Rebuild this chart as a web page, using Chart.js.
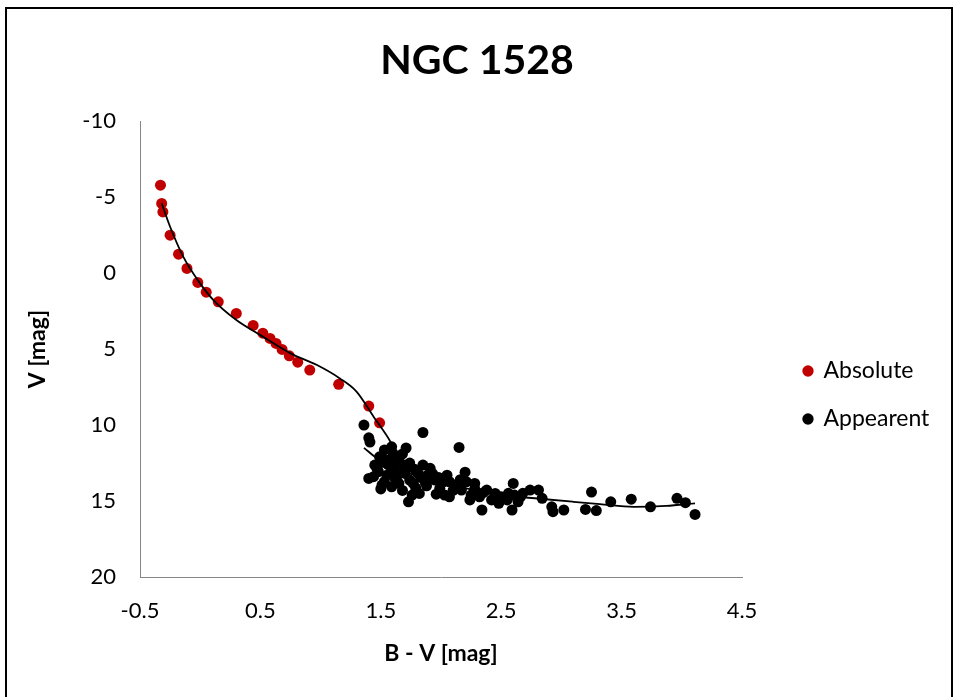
<!DOCTYPE html>
<html>
<head>
<meta charset="utf-8">
<script src="https://cdn.jsdelivr.net/npm/chart.js@4.4.1/dist/chart.umd.min.js"></script>
<style>
  body { margin: 0; background: #fff; }
  #wrap { position: relative; width: 954px; height: 697px; overflow: hidden; }
  #frame { position: absolute; left: 5px; top: 7px; width: 944px; height: 720px; border: 2px solid #000; pointer-events: none; }
</style>
</head>
<body>
<div id="wrap">
  <canvas id="cmd" width="954" height="697"></canvas>
  <div id="frame"></div>
</div>
<script>
// ---- data ----
const absX = [-0.33, -0.32, -0.31, -0.25, -0.18, -0.11, -0.02, 0.05, 0.15, 0.30, 0.44, 0.52, 0.58, 0.63, 0.68, 0.74, 0.81, 0.91, 1.15, 1.40, 1.49, 1.63];
const absY = [-5.79, -4.59, -4.03, -2.5, -1.25, -0.31, 0.61, 1.25, 1.89, 2.65, 3.44, 3.95, 4.30, 4.63, 5.02, 5.44, 5.86, 6.38, 7.32, 8.75, 9.85, 12.15];

const appX = [1.36, 1.40, 1.41, 1.85, 2.15, 1.59, 1.71, 1.53, 1.49, 1.45, 1.56, 1.67, 1.74, 1.48, 1.59, 1.70, 1.40, 1.44, 1.53, 1.65,
  1.74, 1.51, 1.59, 1.73, 1.76, 1.85, 1.81, 1.89, 1.77, 1.95, 2.02, 2.07, 2.12, 2.20, 2.21, 2.03, 2.07, 2.17, 1.99, 2.28,
  2.38, 2.25, 2.32, 2.24, 2.42, 2.48, 2.50, 2.55, 2.60, 2.56, 2.61, 2.66, 2.64, 2.68, 2.74, 2.34, 2.59, 2.81, 2.84, 2.92,
  2.93, 3.02, 3.20, 3.25, 3.29, 3.41, 3.58, 3.74, 3.96, 4.03, 4.11, 1.63, 1.53, 1.64, 1.79, 1.87, 1.91, 1.68, 2.16,
  1.47, 1.52, 1.57, 1.62, 1.70, 1.78, 1.83, 1.93, 1.98, 2.05, 2.10, 1.88, 1.62, 1.55, 1.50, 1.82, 1.96, 2.28, 2.35, 2.45,
  1.68, 1.60];
const appY = [10.00, 10.84, 11.12, 10.49, 11.47, 11.43, 11.51, 11.64, 12.09, 12.63, 12.60, 12.55, 12.50, 13.07, 13.00, 13.18, 13.51, 13.40, 13.73, 13.84,
  13.62, 13.95, 14.06, 15.05, 14.61, 12.63, 13.18, 13.29, 13.84, 13.62, 13.73, 13.73, 13.95, 13.10, 13.73, 14.61, 14.72, 14.28, 14.16, 13.84,
  14.28, 14.61, 14.72, 14.93, 14.93, 15.15, 14.72, 14.93, 13.84, 14.49, 14.61, 14.72, 15.05, 14.49, 14.28, 15.59, 15.59, 14.28, 14.82, 15.38,
  15.70, 15.59, 15.55, 14.41, 15.63, 15.05, 14.88, 15.38, 14.82, 15.11, 15.88, 12.24, 12.30, 13.30, 14.14, 13.80, 12.85, 14.30, 13.60,
  12.90, 12.45, 12.30, 12.70, 12.90, 12.90, 13.45, 13.20, 13.45, 13.30, 14.30, 14.00, 13.55, 13.30, 14.20, 14.50, 14.55, 14.20, 14.45, 14.50,
  11.90, 11.85];

// trendlines
const absTrendX = [-0.32, -0.25, -0.14, -0.02, 0.11, 0.30, 0.50, 0.75, 0.97, 1.16, 1.30, 1.44, 1.58, 1.63];
const absTrendY = [-4.6, -3.05, -1.07, 0.46, 1.78, 3.09, 4.08, 5.28, 6.05, 6.93, 7.81, 9.45, 11.1, 11.9];
const appTrendX = [1.36, 1.47, 1.6, 1.8, 2.0, 2.2, 2.5, 2.82, 3.1, 3.32, 3.6, 3.87, 4.11];
const appTrendY = [11.5, 12.2, 12.75, 13.35, 13.8, 14.15, 14.6, 14.85, 15.05, 15.2, 15.38, 15.32, 15.15];

const seriesNames = ['Absolute', 'Appearent'];
const xTicks = [-0.5, 0.5, 1.5, 2.5, 3.5, 4.5];
const yTicks = [-10, -5, 0, 5, 10, 15, 20];

const pts = (xs, ys) => xs.map((x, i) => ({ x: x, y: ys[i] }));
const FONT = 'Lato, sans-serif';

// keeps the legend at the right of the plot like the Excel one
const legendPlace = {
  id: 'legendPlace',
  beforeLayout(chart) {
    const lg = chart.legend;
    if (lg && !lg._fixed) {
      const fit = lg.fit.bind(lg);
      lg.fit = function () { fit(); this.width = 212; };
      lg._fixed = true;
    }
  },
  afterLayout(chart) {
    const lg = chart.legend;
    const w = lg.right - lg.left, h = lg.bottom - lg.top;
    lg.left = 779; lg.right = 779 + w;
    lg.top = 334.5; lg.bottom = 334.5 + h;
  }
};

new Chart(document.getElementById('cmd'), {
  type: 'scatter',
  data: {
    datasets: [
      {
        label: seriesNames[0],
        data: pts(absX, absY),
        backgroundColor: '#C00000',
        borderColor: '#C00000',
        borderWidth: 0,
        pointRadius: 5.5,
        order: 3
      },
      {
        label: seriesNames[1],
        data: pts(appX, appY),
        backgroundColor: '#000000',
        borderColor: '#000000',
        borderWidth: 0,
        pointRadius: 5.5,
        order: 2
      },
      {
        label: 'trend1',
        data: pts(absTrendX, absTrendY),
        showLine: true,
        pointRadius: 0,
        borderColor: '#000',
        borderWidth: 1.8,
        cubicInterpolationMode: 'monotone',
        order: 1
      },
      {
        label: 'trend2',
        data: pts(appTrendX, appTrendY),
        showLine: true,
        pointRadius: 0,
        borderColor: '#000',
        borderWidth: 1.8,
        cubicInterpolationMode: 'monotone',
        order: 1
      }
    ]
  },
  options: {
    responsive: false,
    animation: false,
    events: [],
    layout: { padding: 0 },
    plugins: {
      title: {
        display: true,
        text: 'NGC 1528',
        color: '#000',
        font: { family: FONT, size: 41, weight: 'bold' },
        padding: { top: 36, bottom: 36 }
      },
      legend: {
        position: 'right',
        align: 'start',
        labels: {
          filter: (item) => item.datasetIndex < 2,
          sort: (a, b) => a.datasetIndex - b.datasetIndex,
          usePointStyle: true,
          pointStyle: 'circle',
          boxWidth: 8,
          boxHeight: 8,
          padding: 25,
          color: '#000',
          font: { family: FONT, size: 23 }
        }
      },
      tooltip: { enabled: false }
    },
    scales: {
      x: {
        type: 'linear',
        min: -0.5,
        max: 4.5,
        afterBuildTicks: (axis) => { axis.ticks = xTicks.map(v => ({ value: v })); },
        afterFit: (scale) => { scale.height = 120; },
        grid: { display: false },
        border: { display: true, color: '#868686', width: 1 },
        ticks: {
          color: '#000',
          padding: 13,
          font: { family: FONT, size: 22 },
          callback: (v) => String(v)
        },
        title: {
          display: true,
          text: 'B - V [mag]',
          color: '#000',
          font: { family: FONT, size: 23, weight: 'bold' },
          padding: { top: 0, bottom: 30 }
        }
      },
      y: {
        type: 'linear',
        reverse: true,
        min: -10,
        max: 20,
        afterBuildTicks: (axis) => { axis.ticks = yTicks.map(v => ({ value: v })); },
        afterFit: (scale) => { scale.width = 140; },
        grid: { display: false },
        border: { display: true, color: '#868686', width: 1 },
        ticks: {
          color: '#000',
          padding: 16,
          font: { family: FONT, size: 22 },
          callback: (v) => String(v)
        },
        title: {
          display: true,
          text: 'V [mag]',
          color: '#000',
          font: { family: FONT, size: 23, weight: 'bold' },
          padding: { top: 24, bottom: 0 }
        }
      }
    }
  },
  plugins: [legendPlace]
});
</script>
</body>
</html>
